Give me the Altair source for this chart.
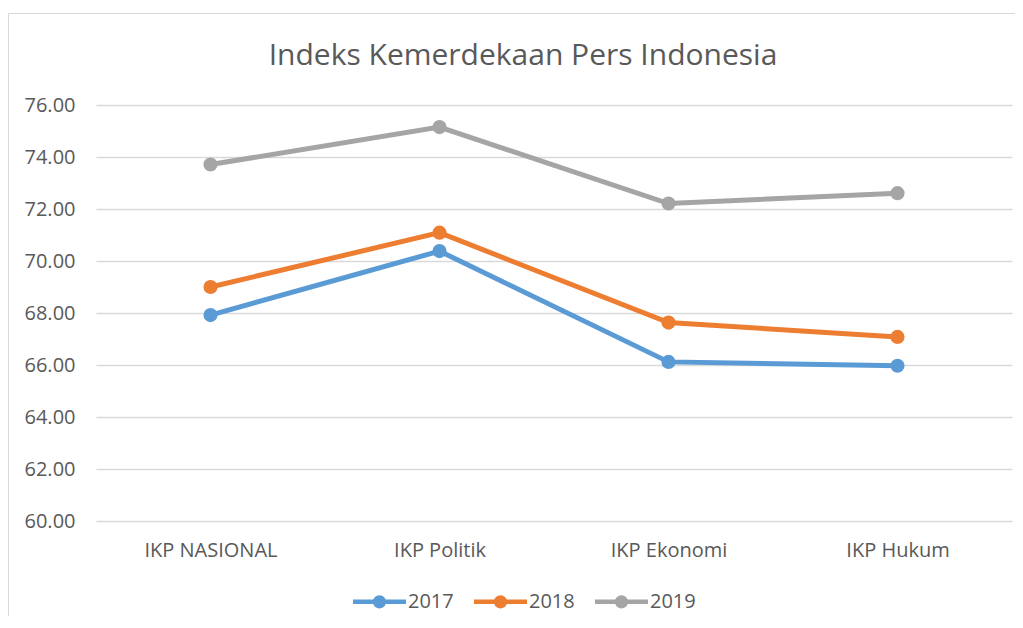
import altair as alt
import pandas as pd

title_text = ["Indeks Kemerdekaan Pers Indonesia"]
categories = ["IKP NASIONAL", "IKP Politik", "IKP Ekonomi", "IKP Hukum"]
years = ["2017", "2018", "2019"]
v2017 = [67.92, 70.38, 66.12, 65.97]
v2018 = [69.00, 71.09, 67.63, 67.08]
v2019 = [73.71, 75.15, 72.21, 72.61]
colors = ["#5B9BD5", "#ED7D31", "#A5A5A5"]
y_ticks = [60, 62, 64, 66, 68, 70, 72, 74, 76]

rows = []
for yr, vals in zip(years, [v2017, v2018, v2019]):
    for c, v in zip(categories, vals):
        rows.append({"Kategori": c, "Tahun": yr, "Nilai": v})
df = pd.DataFrame(rows)

FONT = "Open Sans"
TXT = "#595959"

x_enc = alt.X("Kategori:N", sort=categories,
              scale=alt.Scale(type="point", padding=0.5),
              axis=alt.Axis(title=None, labelAngle=0, domain=False, ticks=False,
                            labelPadding=19, labelFontSize=20, labelColor=TXT,
                            labelFont=FONT, grid=False))
y_enc = alt.Y("Nilai:Q", scale=alt.Scale(domain=[60, 76], nice=False, zero=False),
              axis=alt.Axis(title=None, values=y_ticks, format=".2f", domain=False,
                            ticks=False, labelPadding=21, labelFontSize=20,
                            labelColor=TXT, labelFont=FONT, grid=True,
                            gridColor="#d9d9d9", gridWidth=1.3))
color_scale = alt.Scale(domain=years, range=colors)

sym = ("M -1 -0.085 L 1 -0.085 L 1 0.085 L -1 0.085 Z "
       "M 0.25 0 A 0.25 0.25 0 1 1 -0.25 0 A 0.25 0.25 0 1 1 0.25 0 Z")

base = alt.Chart(df)

lines = base.mark_line(strokeWidth=5).encode(
    x=x_enc, y=y_enc,
    color=alt.Color("Tahun:N", scale=color_scale, legend=None),
    detail="Tahun:N",
)
points = base.mark_point(filled=True, size=200, opacity=1).encode(
    x=x_enc, y=y_enc,
    color=alt.Color("Tahun:N", scale=color_scale,
                    legend=alt.Legend(title=None, orient="none", direction="horizontal",
                                      legendX=257, legendY=470, symbolType=sym,
                                      symbolSize=2809, symbolStrokeWidth=0,
                                      symbolOpacity=1, labelFontSize=20,
                                      labelColor=TXT, labelFont=FONT, labelOffset=2,
                                      columnPadding=20, padding=0)),
)

frame = alt.Chart(pd.DataFrame({"a": [0]})).mark_rect(
    fill=None, stroke="#d9d9d9", strokeWidth=1
).encode(x=alt.value(-87.5), x2=alt.value(1000), y=alt.value(-91.5), y2=alt.value(600))

title = alt.Chart(pd.DataFrame({"t": title_text})).mark_text(
    font=FONT, fontSize=30, color=TXT, align="center", baseline="alphabetic"
).encode(text="t:N", x=alt.value(427), y=alt.value(-40))

chart = alt.layer(frame, title, lines, points).resolve_scale(color="independent").properties(
    width=916, height=416,
    autosize=alt.AutoSizeParams(type="none"),
    padding={"left": 88, "top": 97, "right": 3, "bottom": 95},
).configure_view(stroke=None)

chart.save("out.html", embed_options={"renderer": "svg", "actions": False})
